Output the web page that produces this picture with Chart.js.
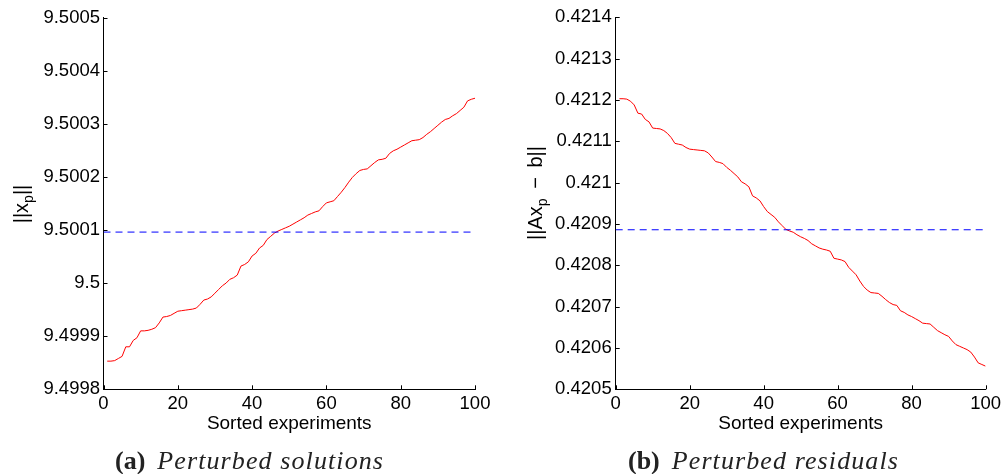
<!DOCTYPE html>
<html>
<head>
<meta charset="utf-8">
<script src="https://cdn.jsdelivr.net/npm/chart.js@4.4.1/dist/chart.umd.min.js"></script>
<style>
  html, body { margin: 0; padding: 0; background: #fff; }
  #page { position: relative; width: 1005px; height: 474px; overflow: hidden; }
  canvas { position: absolute; top: 0; }
  #solutions { left: 0; }
  #residuals { left: 500px; }
  .caption { position: absolute; top: 448px; line-height: 26px; font-family: 'Liberation Serif', serif; font-size: 26px; white-space: nowrap; color: #222; }
  .caption b { margin-right: 12px; }
  .caption i { letter-spacing: 1.1px; }
</style>
</head>
<body>
<div id="page">
  <canvas id="solutions" width="500" height="474"></canvas>
  <canvas id="residuals" width="505" height="474"></canvas>
  <div class="caption" style="left:115px"><b>(a)</b><i>Perturbed solutions</i></div>
  <div class="caption" style="left:628px"><b>(b)</b><i>Perturbed residuals</i></div>
</div>
<script>
(function () {
    'use strict';

    // experiment index after sorting
    const experiments = Array.from({ length: 100 }, (_, i) => i + 1);

    // ||x_p|| of each perturbed solution, sorted
    const solutionNorms = [
        9.499853, 9.499853, 9.499854, 9.499858, 9.499862, 9.49988, 9.49988, 9.499892, 9.499897, 9.49991,
        9.49991, 9.499911, 9.499913, 9.499916, 9.499925, 9.499936, 9.499937, 9.499939, 9.499943, 9.499947,
        9.499948, 9.499949, 9.49995, 9.499951, 9.499953, 9.49996, 9.499968, 9.49997, 9.499974, 9.499981,
        9.499988, 9.499995, 9.5, 9.500007, 9.50001, 9.500015, 9.500032, 9.500035, 9.50004, 9.500051,
        9.500056, 9.500066, 9.500071, 9.500082, 9.500088, 9.500094, 9.500098, 9.500101, 9.500104, 9.500107,
        9.500111, 9.500115, 9.500119, 9.500123, 9.500128, 9.500131, 9.500134, 9.500136, 9.500144, 9.500151,
        9.500153, 9.500155, 9.500163, 9.500171, 9.50018, 9.50019, 9.500199, 9.500206, 9.500212, 9.500214,
        9.500215, 9.500221, 9.500227, 9.500232, 9.500233, 9.500235, 9.500244, 9.500249, 9.500252, 9.500256,
        9.50026, 9.500264, 9.500268, 9.500269, 9.50027, 9.500274, 9.50028, 9.500285, 9.500291, 9.500297,
        9.500303, 9.500308, 9.50031, 9.500315, 9.500319, 9.500325, 9.500331, 9.500343, 9.500346, 9.500348
    ];

    // ||Ax_p - b|| of each perturbed solution, sorted
    const residualNorms = [
        0.421203, 0.421203, 0.421202, 0.421197, 0.421188, 0.421168, 0.421166, 0.421153, 0.421147, 0.421132,
        0.421131, 0.42113, 0.421126, 0.421119, 0.421109, 0.421095, 0.421093, 0.421091, 0.421085, 0.421081,
        0.42108, 0.421079, 0.421078, 0.421077, 0.421072, 0.421062, 0.421051, 0.421049, 0.421046, 0.421037,
        0.42103, 0.421022, 0.421014, 0.421002, 0.420997, 0.42099, 0.420968, 0.420963, 0.420956, 0.420942,
        0.42093, 0.420923, 0.420916, 0.420905, 0.420896, 0.420887, 0.420883, 0.42088, 0.420874, 0.420869,
        0.420865, 0.42086, 0.420852, 0.420847, 0.420842, 0.420839, 0.420837, 0.420834, 0.420817, 0.420815,
        0.420813, 0.420809, 0.420795, 0.420786, 0.420777, 0.420762, 0.420749, 0.42074, 0.420734, 0.420733,
        0.420732, 0.420725, 0.420717, 0.42071, 0.420705, 0.420703, 0.42069, 0.420686, 0.42068, 0.420676,
        0.420671, 0.420666, 0.42066, 0.420659, 0.420658, 0.42065, 0.420642, 0.420637, 0.420632, 0.420628,
        0.420617, 0.420608, 0.420604, 0.4206, 0.420596, 0.42059, 0.420578, 0.420564, 0.42056, 0.420556
    ];

    // unperturbed reference values (dashed lines)
    const solutionMean = 9.500096;
    const residualMean = 0.420886;

    // axis ticks
    const experimentTicks = [0, 20, 40, 60, 80, 100];
    const solutionTicks = [9.4998, 9.4999, 9.5, 9.5001, 9.5002, 9.5003, 9.5004, 9.5005];
    const solutionTickLabels = ['9.4998', '9.4999', '9.5', '9.5001', '9.5002', '9.5003', '9.5004', '9.5005'];
    const residualTicks = [0.4205, 0.4206, 0.4207, 0.4208, 0.4209, 0.421, 0.4211, 0.4212, 0.4213, 0.4214];
    const residualTickLabels = ['0.4205', '0.4206', '0.4207', '0.4208', '0.4209', '0.421', '0.4211', '0.4212', '0.4213', '0.4214'];

    const SANS = '"Liberation Sans", Arial, Helvetica, sans-serif';

    // inward tick marks and axis titles (y title has a subscript)
    const axisDecor = {
        id: 'axisDecor',
        afterDraw: function (chart, args, opts) {
            const ctx = chart.ctx;
            const area = chart.chartArea;
            const xs = chart.scales.x;
            const ys = chart.scales.y;

            ctx.save();
            ctx.strokeStyle = '#000';
            ctx.lineWidth = 1;
            ctx.beginPath();
            xs.ticks.forEach(function (t) {
                let px = Math.round(xs.getPixelForValue(t.value)) + 0.5;
                ctx.moveTo(px, area.bottom);
                ctx.lineTo(px, area.bottom - 4);
            });
            ys.ticks.forEach(function (t) {
                let py = Math.round(ys.getPixelForValue(t.value)) + 0.5;
                ctx.moveTo(area.left, py);
                ctx.lineTo(area.left + 4, py);
            });
            ctx.stroke();

            ctx.fillStyle = '#000';
            ctx.textBaseline = 'alphabetic';
            ctx.textAlign = 'center';
            ctx.font = '19px ' + SANS;
            ctx.fillText('Sorted experiments', (area.left + area.right) / 2, opts.xTitleY);

            // y title, rotated
            ctx.textAlign = 'left';
            let total = 0;
            opts.yTitle.forEach(function (part) {
                ctx.font = (part[1] ? '14px ' : '20px ') + SANS;
                total += ctx.measureText(part[0]).width;
            });
            ctx.translate(opts.yTitleX, opts.yTitleY);
            ctx.rotate(-Math.PI / 2);
            let u = -total / 2;
            opts.yTitle.forEach(function (part) {
                ctx.font = (part[1] ? '14px ' : '20px ') + SANS;
                ctx.fillText(part[0], u, part[1] ? 5 : 0);
                u += ctx.measureText(part[0]).width;
            });
            ctx.restore();
        }
    };

    function plot(canvasId, values, mean, yTicks, yTickLabels, box, decor) {
        return new Chart(document.getElementById(canvasId), {
            type: 'line',
            data: {
                datasets: [{
                    data: [{ x: 0, y: mean }, { x: 100, y: mean }],
                    borderColor: '#0000ff',
                    borderWidth: 1,
                    borderDash: [7, 5],
                    pointRadius: 0
                }, {
                    data: experiments.map(function (e, i) { return { x: e, y: values[i] }; }),
                    borderColor: '#ff0000',
                    borderWidth: 1,
                    pointRadius: 0
                }]
            },
            options: {
                responsive: false,
                animation: false,
                layout: { padding: { left: 0, right: box.right, top: box.top, bottom: 0 } },
                plugins: {
                    legend: { display: false },
                    tooltip: { enabled: false },
                    axisDecor: decor
                },
                scales: {
                    x: {
                        type: 'linear',
                        min: 0,
                        max: 100,
                        afterBuildTicks: function (scale) {
                            scale.ticks = experimentTicks.map(function (v) { return { value: v }; });
                        },
                        afterFit: function (scale) { scale.height = box.xHeight; },
                        grid: { display: false, drawTicks: false },
                        border: { display: true, color: '#000', width: 1 },
                        ticks: {
                            padding: 4,
                            color: '#000',
                            font: { family: SANS, size: 18.5 },
                            maxRotation: 0,
                            autoSkip: false
                        }
                    },
                    y: {
                        type: 'linear',
                        min: yTicks[0],
                        max: yTicks[yTicks.length - 1],
                        afterBuildTicks: function (scale) {
                            scale.ticks = yTicks.map(function (v) { return { value: v }; });
                        },
                        afterFit: function (scale) { scale.width = box.yWidth; },
                        grid: { display: false, drawTicks: false },
                        border: { display: true, color: '#000', width: 1 },
                        ticks: {
                            padding: box.yPad,
                            color: '#000',
                            font: { family: SANS, size: 18.5 },
                            autoSkip: false,
                            callback: function (value, index) { return yTickLabels[index]; }
                        }
                    }
                }
            },
            plugins: [axisDecor]
        });
    }

    plot('solutions', solutionNorms, solutionMean, solutionTicks, solutionTickLabels,
        { right: 25, top: 17.5, xHeight: 84.7, yWidth: 103.5, yPad: 3.5 },
        { xTitleY: 429.3, yTitleX: 28, yTitleY: 204, yTitle: [['||x', 0], ['p', 1], ['||', 0]] });

    plot('residuals', residualNorms, residualMean, residualTicks, residualTickLabels,
        { right: 17.3, top: 17.3, xHeight: 84.7, yWidth: 115.7, yPad: 4 },
        { xTitleY: 429.3, yTitleX: 41.7, yTitleY: 193, yTitle: [['||Ax', 0], ['p', 1], [' \u2009\u2212\u2009 b||', 0]] });
})();
</script>
</body>
</html>
